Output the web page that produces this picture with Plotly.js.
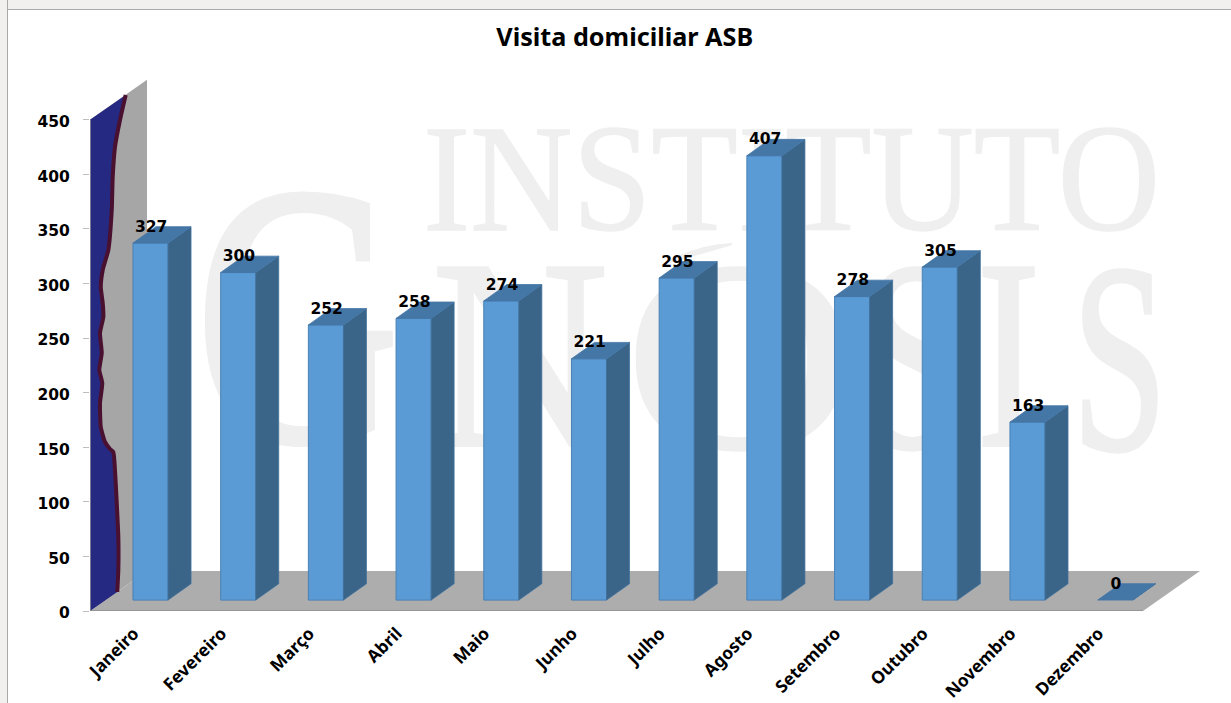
<!DOCTYPE html>
<html><head><meta charset="utf-8">
<script src="https://cdn.plot.ly/plotly-3.0.1.min.js"></script>
<style>
html,body{margin:0;padding:0;background:#fff;width:1231px;height:703px;overflow:hidden}
#bandTop{position:absolute;left:0;top:0;width:1231px;height:9px;background:#f2f0ee;border-bottom:1px solid #a9a9a9}
#bandLeft{position:absolute;left:0;top:0;width:7px;height:703px;background:#f2f0ee;border-right:1px solid #a9a9a9}
#wm{position:absolute;left:0;top:0}
#chart{position:absolute;left:0;top:0;width:1231px;height:703px}
</style></head><body>
<div id="bandTop"></div><div id="bandLeft"></div>
<svg id="wm" width="1231" height="703" font-family="Liberation Serif" fill="#efefef" stroke="#efefef">
<text x="423" y="230" font-size="152" textLength="737" lengthAdjust="spacingAndGlyphs" stroke-width="1.5">INSTITUTO</text>
<text x="196" y="440" font-size="370" textLength="203" lengthAdjust="spacingAndGlyphs" stroke-width="7">G</text>
<text x="432" y="445" font-size="270" textLength="176" lengthAdjust="spacingAndGlyphs" stroke-width="4">N</text>
<text x="625" y="447" font-size="270" textLength="230" lengthAdjust="spacingAndGlyphs" stroke-width="4">O</text>
<path d="M668,262 C690,250 712,245 732,244 C712,250 692,256 668,262 Z" stroke-width="2"/>
<text x="862" y="447" font-size="270" textLength="105" lengthAdjust="spacingAndGlyphs" stroke-width="4">S</text>
<text x="977" y="445" font-size="270" textLength="63" lengthAdjust="spacingAndGlyphs" stroke-width="4">I</text>
<text x="1072" y="449" font-size="270" textLength="95" lengthAdjust="spacingAndGlyphs" stroke-width="4">S</text>
</svg>
<div id="chart"></div>
<script>
const months = ['Janeiro','Fevereiro','Março','Abril','Maio','Junho','Julho','Agosto','Setembro','Outubro','Novembro','Dezembro'];
const visits = [327,300,252,258,274,221,295,407,278,305,163,0];
const yTicks = [0,50,100,150,200,250,300,350,400,450];
const wallEdgeX = [-0.283,-0.348,-0.405,-0.431,-0.442,-0.481,-0.545,-0.567,-0.545,-0.538,-0.576,-0.556,-0.584,-0.550,-0.576,-0.567,-0.519,-0.462,-0.424,-0.405,-0.385,-0.367,-0.367,-0.379];
const wallEdgeY = [472.6,449.7,425,397.5,367.3,330.6,312.3,296.8,282.1,269.3,254.6,236.3,220.7,208.8,190.5,168.5,154.8,148.4,145.6,129.1,98.9,67.8,37.6,17.4];

const xLeft = -0.69, xRight = 11.967, wallDx = 0.65, wallDy = 36.6, yMax = 450;
const base = 10, barW = 0.4, depthX = 0.262, depthY = 15;
const idx = months.map((_, i) => i);

function poly(build){const xs=[],ys=[];idx.forEach(i=>{const p=build(i);p.forEach(q=>{xs.push(q[0]);ys.push(q[1]);});xs.push(null);ys.push(null);});return {xs,ys};}
const side = poly(i=>{const r=i+barW/2,t=base+visits[i];return [[r,base],[r+depthX,base+depthY],[r+depthX,t+depthY],[r,t],[r,base]];});
const top3 = poly(i=>{const l=i-barW/2,r=i+barW/2,t=base+visits[i];return [[l,t],[l+depthX,t+depthY],[r+depthX,t+depthY],[r,t],[l,t]];});

const traces = [
 {type:'bar',x:idx.slice(0,11),y:visits.slice(0,11),base:base,width:barW,
  marker:{color:'#5b9bd5',line:{color:'#4a80b5',width:1}},hoverinfo:'skip'},
 {type:'scatter',mode:'lines',x:side.xs,y:side.ys,fill:'toself',fillcolor:'#3a6488',line:{color:'#41719c',width:0.8},hoverinfo:'skip'},
 {type:'scatter',mode:'lines',x:top3.xs,y:top3.ys,fill:'toself',fillcolor:'#4476a6',line:{color:'#4476a6',width:0.8},hoverinfo:'skip'},
 {type:'scatter',mode:'lines',x:[xLeft].concat(wallEdgeX,[xLeft]),y:[yMax].concat(wallEdgeY,[0]),fill:'toself',fillcolor:'#262981',line:{width:0},hoverinfo:'skip'},
 {type:'scatter',mode:'lines',x:wallEdgeX,y:wallEdgeY,line:{color:'#4a1030',width:4,shape:'spline',smoothing:0.5},hoverinfo:'skip'},
 {type:'scatter',mode:'text',x:idx.map(i=>i+0.008),y:visits.map(v=>v+base+14),text:visits.map(String),textposition:'middle center',
  textfont:{family:'DejaVu Sans',size:15.5,color:'#000',weight:700},cliponaxis:false,hoverinfo:'skip'}
];
const layout = {
 width:1231,height:703,autosize:false,showlegend:false,
 paper_bgcolor:'rgba(0,0,0,0)',plot_bgcolor:'rgba(0,0,0,0)',
 margin:{l:90,r:31,t:76,b:92,pad:0},
 title:{text:'Visita domiciliar ASB',x:0.5075,xanchor:'center',y:0.947,yanchor:'middle',font:{family:'Noto Sans',size:25.2,color:'#000',weight:700}},
 xaxis:{type:'linear',range:[xLeft,xRight],tickmode:'array',tickvals:idx.map(i=>i-0.19),ticktext:months,tickangle:-45,
  showgrid:false,zeroline:false,showline:false,ticks:'',ticklabelstandoff:8,
  tickfont:{family:'Noto Sans',size:17.3,color:'#000',weight:700}},
 yaxis:{range:[0,490],tickmode:'array',tickvals:yTicks,ticktext:yTicks.map(String),showgrid:false,zeroline:false,showline:false,
  ticks:'outside',ticklen:6,tickwidth:1,tickcolor:'#bdbdbd',ticklabelstandoff:10,
  tickfont:{family:'DejaVu Sans',size:15.5,color:'#000',weight:700}},
 shapes:[
  {type:'path',layer:'below',xref:'x',yref:'y',
   path:`M${xLeft},${yMax} L${xLeft+wallDx},${yMax+wallDy} L${xLeft+wallDx},${wallDy} L${xLeft},0 Z`,
   fillcolor:'#a6a6a6',line:{width:0}},
  {type:'path',layer:'below',xref:'x',yref:'y',
   path:`M${xLeft},0 L${xLeft+wallDx},${wallDy} L${xRight},${wallDy} L${xRight-wallDx},0 Z`,
   fillcolor:'#adadad',line:{width:0}},
  {type:'line',layer:'below',xref:'x',yref:'y',x0:xLeft,x1:xRight-wallDx,y0:0,y1:0,line:{color:'#8e8e8e',width:1.5}},
  {type:'line',layer:'above',xref:'x',yref:'y',x0:xLeft,x1:xLeft,y0:0,y1:yMax,line:{color:'#9a9a9a',width:1.5}}
 ]
};
Plotly.newPlot('chart',traces,layout,{displayModeBar:false,staticPlot:true}).then(gd=>{
  gd.querySelectorAll('.ytick text').forEach(t=>{
    t.setAttribute('transform',(t.getAttribute('transform')||'')+' translate(0,2)');
  });
});
</script></body></html>
